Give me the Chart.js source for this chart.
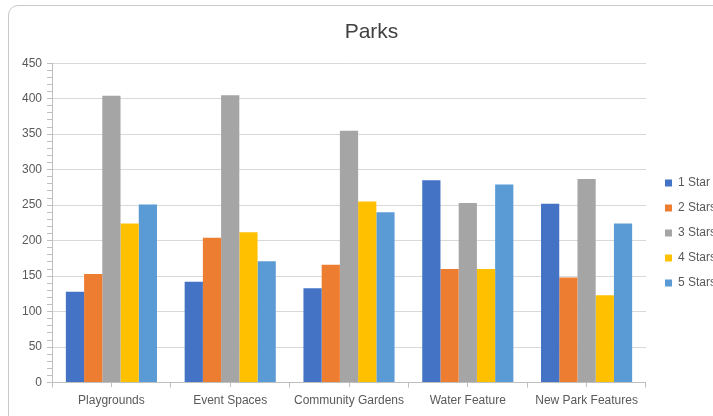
<!DOCTYPE html>
<html>
<head>
<meta charset="utf-8">
<script src="https://cdn.jsdelivr.net/npm/chart.js@4/dist/chart.umd.min.js"></script>
<style>
  html, body { margin: 0; padding: 0; background: #ffffff; overflow: hidden; width: 713px; height: 416px; }
  #frame { position: absolute; left: 8px; top: 5px; width: 900px; height: 600px; border: 1px solid #c9c9c9; border-radius: 10px; box-sizing: border-box; }
  #c { position: absolute; left: 0; top: 0; }
</style>
</head>
<body>
<div id="frame"></div>
<canvas id="c" width="726" height="416"></canvas>
<script>
const categories = ["Playgrounds", "Event Spaces", "Community Gardens", "Water Feature", "New Park Features"];
const seriesNames = ["1 Star", "2 Stars", "3 Stars", "4 Stars", "5 Stars"];
const oneStar = [128, 142, 133, 285, 252];
const twoStars = [153, 204, 166, 160, 148];
const threeStars = [404, 405, 355, 253, 287];
const fourStars = [224, 212, 255, 160, 123];
const fiveStars = [251, 171, 240, 279, 224];
const yMin = 0, yMax = 450, yMajor = 50, yMinor = 10;

const colors = ["#4472C4", "#ED7D31", "#A5A5A5", "#FFC000", "#5B9BD5"];
const seriesValues = [oneStar, twoStars, threeStars, fourStars, fiveStars];
const FONT = "'Liberation Sans', Arial, sans-serif";

const datasets = seriesValues.map((vals, i) => ({
  label: seriesNames[i],
  data: vals,
  backgroundColor: colors[i],
  borderWidth: 0,
  categoryPercentage: 0.767,
  barPercentage: 1.0
}));

new Chart(document.getElementById('c'), {
  type: 'bar',
  data: { labels: categories, datasets },
  options: {
    responsive: false,
    animation: false,
    devicePixelRatio: 1,
    layout: { padding: { left: 17, right: 0, top: 0, bottom: 2 } },
    plugins: {
      tooltip: { enabled: false },
      title: {
        display: true,
        text: 'Parks',
        color: '#404040',
        font: { family: FONT, size: 21, weight: 'normal' },
        padding: { top: 20, bottom: 18 }
      },
      legend: {
        display: true,
        position: 'right',
        align: 'center',
        fullSize: false,
        title: { display: true, text: '', padding: 3, font: { family: FONT, size: 12 } },
        labels: {
          boxWidth: 7,
          boxHeight: 7,
          padding: 13,
          color: '#595959',
          font: { family: FONT, size: 12 }
        }
      }
    },
    scales: {
      x: {
        type: 'category',
        position: 'bottom',
        grid: { display: true, drawOnChartArea: false, offset: true, tickLength: 5, color: '#bfbfbf', tickColor: '#bfbfbf' },
        border: { display: true, color: '#bfbfbf' },
        ticks: { color: '#595959', font: { family: FONT, size: 12 }, padding: 6, maxRotation: 0, autoSkip: false }
      },
      x2: {
        type: 'category',
        position: { y: 0 },
        display: true,
        grid: { display: true, drawOnChartArea: false, offset: false, tickLength: 4, color: '#bfbfbf', tickColor: '#bfbfbf' },
        border: { display: false },
        ticks: { display: false }
      },
      y: {
        type: 'linear',
        position: 'left',
        min: yMin,
        max: yMax,
        grid: {
          display: true,
          drawOnChartArea: true,
          tickLength: 5,
          color: (ctx) => (ctx.tick && ctx.tick.value % yMajor === 0) ? '#d9d9d9' : 'rgba(0,0,0,0)',
          tickColor: '#bfbfbf'
        },
        border: { display: true, color: '#bfbfbf' },
        ticks: {
          stepSize: yMinor,
          autoSkip: false,
          padding: 5,
          color: '#595959',
          font: { family: FONT, size: 12 },
          callback: (v) => (v % yMajor === 0 ? String(v) : '')
        }
      },
      ySpacer: {
        type: 'linear',
        position: 'right',
        display: true,
        grid: { display: false, drawOnChartArea: false },
        border: { display: false },
        ticks: { display: false },
        afterFit: (scale) => { scale.width = 6; }
      }
    }
  }
});
</script>
</body>
</html>
